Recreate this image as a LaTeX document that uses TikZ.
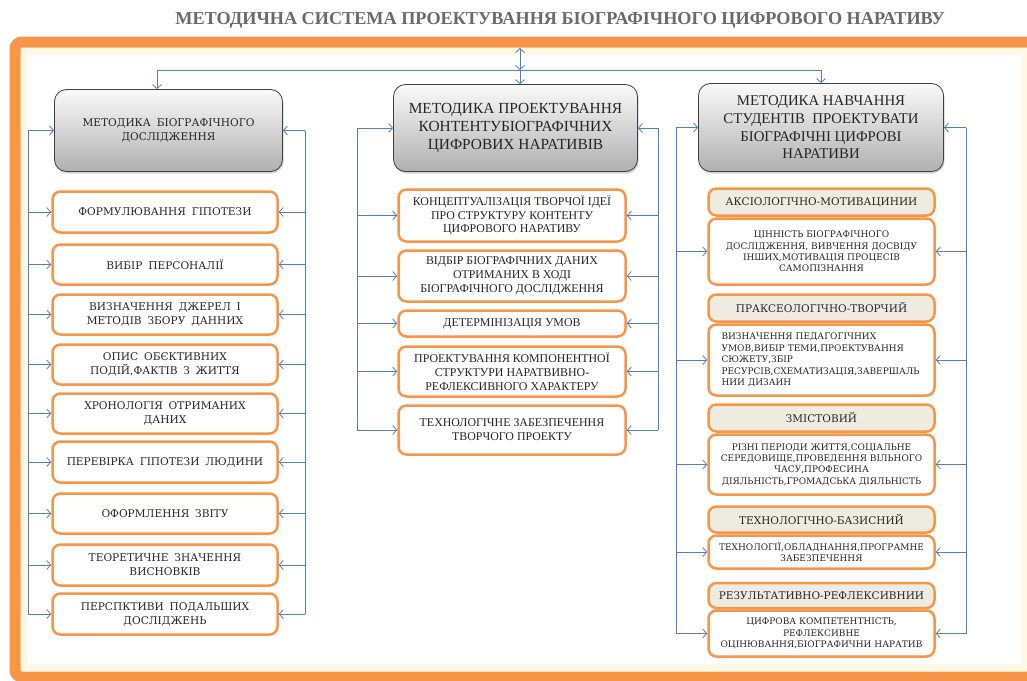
\documentclass[tikz,border=0pt]{standalone}
\usepackage{fontspec}
\setmainfont{Liberation Serif}
\newfontfamily\dvs{DejaVu Serif}
\usetikzlibrary{arrows.meta,shadows}
\definecolor{frameor}{HTML}{F79646}
\definecolor{itemor}{HTML}{F79646}
\definecolor{beige}{HTML}{EEECE1}
\definecolor{conn}{HTML}{4F81BD}
\definecolor{titlegray}{HTML}{6A6A6A}
\definecolor{glow}{HTML}{FFF8E6}
\definecolor{txt}{HTML}{262626}
\newcommand{\lfont}{\dvs\fontsize{10.6}{14}\selectfont\spaceskip=0.55em plus 0.1em}
\newcommand{\mfont}{\fontsize{11.9}{13.8}\selectfont}
\newcommand{\rfont}{\dvs\fontsize{9}{11.4}\selectfont}
\newcommand{\labfont}{\dvs\fontsize{10.5}{12}\selectfont}
\tikzset{
  headbox/.style={draw=black!75, line width=0.8pt, rounded corners=12pt,
    top color=gray!4, bottom color=gray!62, text=txt,
    drop shadow={opacity=0.35,shadow xshift=1pt,shadow yshift=-2pt},
    align=center, inner sep=1pt},
  itembox/.style={draw=itemor, line width=2.5pt, rounded corners=8pt, fill=white,
    align=center, inner sep=1pt, text=txt},
  labbox/.style={itembox, fill=beige, font=\labfont},
  arr/.style={draw=conn, line width=0.8pt, -{Straight Barb[length=4pt,width=9pt]}},
  darr/.style={draw=conn, line width=0.8pt, {Straight Barb[length=4pt,width=9pt]}-{Straight Barb[length=4pt,width=9pt]}},
  bus/.style={draw=conn, line width=0.8pt},
}
\begin{document}
\begin{tikzpicture}[x=1pt,y=-1pt]
\useasboundingbox (0,0) rectangle (1027,680);
\fill[white] (0,0) rectangle (1027,680);
% frame
\begin{scope}
\clip (0,0) rectangle (1027,680);
\draw[glow, line width=7pt] (24,51.5) rectangle (1024,667);
\draw[frameor, line width=11pt, rounded corners=7pt] (15,42) rectangle (1034,677);
\end{scope}
% title
\node[font=\bfseries\fontsize{18.2}{20}\selectfont, text=titlegray] (title) at (560,20)
  {МЕТОДИЧНА СИСТЕМА ПРОЕКТУВАННЯ БІОГРАФІЧНОГО ЦИФРОВОГО НАРАТИВУ};

% heads
\node[headbox, minimum width=228, minimum height=82, font=\lfont] (LH) at (168.5,130.5)
  {МЕТОДИКА БІОГРАФІЧНОГО\\ДОСЛІДЖЕННЯ};
\node[headbox, minimum width=244, minimum height=87, font=\fontsize{15.4}{18}\selectfont] (MH) at (515.5,128)
  {МЕТОДИКА ПРОЕКТУВАННЯ\\КОНТЕНТУБІОГРАФІЧНИХ\\ЦИФРОВИХ НАРАТИВІВ};
\node[headbox, minimum width=245, minimum height=88, font=\fontsize{14.8}{17.6}\selectfont] (RH) at (821,127.5)
  {МЕТОДИКА НАВЧАННЯ\\СТУДЕНТІВ\ \ ПРОЕКТУВАТИ\\БІОГРАФІЧНІ ЦИФРОВІ\\НАРАТИВИ};

% left column
\begin{scope}[every node/.style={itembox, minimum width=225, font=\lfont}]
\node[minimum height=41] (L1) at (165,212) {ФОРМУЛЮВАННЯ ГІПОТЕЗИ};
\node[minimum height=40] (L2) at (165,264.5) {ВИБІР ПЕРСОНАЛІЇ};
\node[minimum height=40] (L3) at (165,314.5) {ВИЗНАЧЕННЯ ДЖЕРЕЛ І\\МЕТОДІВ ЗБОРУ ДАННИХ};
\node[minimum height=40] (L4) at (165,364.5) {ОПИС ОБЄКТИВНИХ\\ПОДІЙ,ФАКТІВ З ЖИТТЯ};
\node[minimum height=40] (L5) at (165,413.5) {ХРОНОЛОГІЯ ОТРИМАНИХ\\ДАНИХ};
\node[minimum height=41] (L6) at (165,462) {ПЕРЕВІРКА ГІПОТЕЗИ ЛЮДИНИ};
\node[minimum height=40] (L7) at (165,513.5) {ОФОРМЛЕННЯ ЗВІТУ};
\node[minimum height=41] (L8) at (165,565) {ТЕОРЕТИЧНЕ ЗНАЧЕННЯ\\ВИСНОВКІВ};
\node[minimum height=41] (L9) at (165,614) {ПЕРСПКТИВИ ПОДАЛЬШИХ\\ДОСЛІДЖЕНЬ};
\end{scope}

% middle column
\begin{scope}[every node/.style={itembox, minimum width=227, font=\mfont}]
\node[minimum height=52] (M1) at (512,215.5) {КОНЦЕПТУАЛІЗАЦІЯ ТВОРЧОЇ ІДЕЇ\\ПРО СТРУКТУРУ КОНТЕНТУ\\ЦИФРОВОГО НАРАТИВУ};
\node[minimum height=51] (M2) at (512,276) {ВІДБІР БІОГРАФІЧНИХ ДАНИХ\\ОТРИМАНИХ В ХОДІ\\БІОГРАФІЧНОГО ДОСЛІДЖЕННЯ};
\node[minimum height=26] (M3) at (512,323.5) {ДЕТЕРМІНІЗАЦІЯ УМОВ};
\node[minimum height=50] (M4) at (512,371.5) {ПРОЕКТУВАННЯ КОМПОНЕНТНОЇ\\СТРУКТУРИ НАРАТВИВНО-\\РЕФЛЕКСИВНОГО ХАРАКТЕРУ};
\node[minimum height=49] (M5) at (512,430) {ТЕХНОЛОГІЧНЕ ЗАБЕЗПЕЧЕННЯ\\ТВОРЧОГО ПРОЕКТУ};
\end{scope}

% right column
\begin{scope}[every node/.style={itembox, minimum width=226, font=\rfont}]
\node[minimum height=66] (A2) at (821.5,251.5) {ЦІННІСТЬ БІОГРАФІЧНОГО\\ДОСЛІДЖЕННЯ, ВИВЧЕННЯ ДОСВІДУ\\ІНШИХ,МОТИВАЦІЯ ПРОЦЕСІВ\\САМОПІЗНАННЯ};
\node[labbox, minimum height=27] (A1) at (821.5,202) {АКСІОЛОГІЧНО-МОТИВАЦИНИИ};
\node[minimum height=71, text width=200, align=left, inner xsep=13] (B2) at (821.5,360) {ВИЗНАЧЕННЯ ПЕДАГОГІЧНИХ\\УМОВ,ВИБІР ТЕМИ,ПРОЕКТУВАННЯ\\СЮЖЕТУ,ЗБІР\\РЕСУРСІВ,СХЕМАТИЗАЦІЯ,ЗАВЕРШАЛЬ\\НИИ ДИЗАИН};
\node[labbox, minimum height=27] (B1) at (821.5,308) {ПРАКСЕОЛОГІЧНО-ТВОРЧИЙ};
\node[minimum height=60] (C2) at (821.5,464.5) {РІЗНІ ПЕРІОДИ ЖИТТЯ,СОЦІАЛЬНЕ\\СЕРЕДОВИЩЕ,ПРОВЕДЕННЯ ВІЛЬНОГО\\ЧАСУ,ПРОФЕСИНА\\ДІЯЛЬНІСТЬ,ГРОМАДСЬКА ДІЯЛЬНІСТЬ};
\node[labbox, minimum height=27] (C1) at (821.5,418) {ЗМІСТОВИЙ};
\node[minimum height=33] (D2) at (821.5,552) {ТЕХНОЛОГІЇ,ОБЛАДНАННЯ,ПРОГРАМНЕ\\ЗАБЕЗПЕЧЕННЯ};
\node[labbox, minimum height=26] (D1) at (821.5,519.5) {ТЕХНОЛОГІЧНО-БАЗИСНИЙ};
\node[minimum height=46] (E2) at (821.5,633.5) {ЦИФРОВА КОМПЕТЕНТНІСТЬ,\\РЕФЛЕКСИВНЕ\\ОЦІНЮВАННЯ,БІОГРАФИЧНИ НАРАТИВ};
\node[labbox, minimum height=25] (E1) at (821.5,595.5) {РЕЗУЛЬТАТИВНО-РЕФЛЕКСИВНИИ};
\end{scope}

% top connectors
\coordinate (topT) at (520,48);
\coordinate (hubM) at (520,70);
\coordinate (hubL) at (157,70);
\coordinate (hubR) at (821,70);
\draw[bus] (hubL) -- (hubR);
\draw[darr] (topT) -- (hubM);
\draw[arr] (hubM) -- (hubM |- MH.north);
\draw[arr] (hubL) -- (hubL |- LH.north);
\draw[arr] (hubR) -- (hubR |- RH.north);

% buses
\coordinate (lbL) at (28,0);  \coordinate (lbR) at (305,0);
\coordinate (mbL) at (357,0); \coordinate (mbR) at (658,0);
\coordinate (rbL) at (676,0); \coordinate (rbR) at (966,0);

\draw[bus] (LH.west -| lbL) -- (L9.west -| lbL);
\draw[bus] (LH.east -| lbR) -- (L9.east -| lbR);
\foreach \n in {LH,L1,L2,L3,L4,L5,L6,L7,L8,L9}{
  \draw[arr] (\n.west -| lbL) -- (\n.west);
  \draw[arr] (\n.east -| lbR) -- (\n.east);
}
\draw[bus] (MH.west -| mbL) -- (M5.west -| mbL);
\draw[bus] (MH.east -| mbR) -- (M5.east -| mbR);
\foreach \n in {MH,M1,M2,M3,M4,M5}{
  \draw[arr] (\n.west -| mbL) -- (\n.west);
  \draw[arr] (\n.east -| mbR) -- (\n.east);
}
\draw[bus] (RH.west -| rbL) -- (E2.west -| rbL);
\draw[bus] (RH.east -| rbR) -- (E2.east -| rbR);
\foreach \n in {RH,A2,B2,C2,D2,E2}{
  \draw[arr] (\n.west -| rbL) -- (\n.west);
  \draw[arr] (\n.east -| rbR) -- (\n.east);
}
\end{tikzpicture}
\end{document}
